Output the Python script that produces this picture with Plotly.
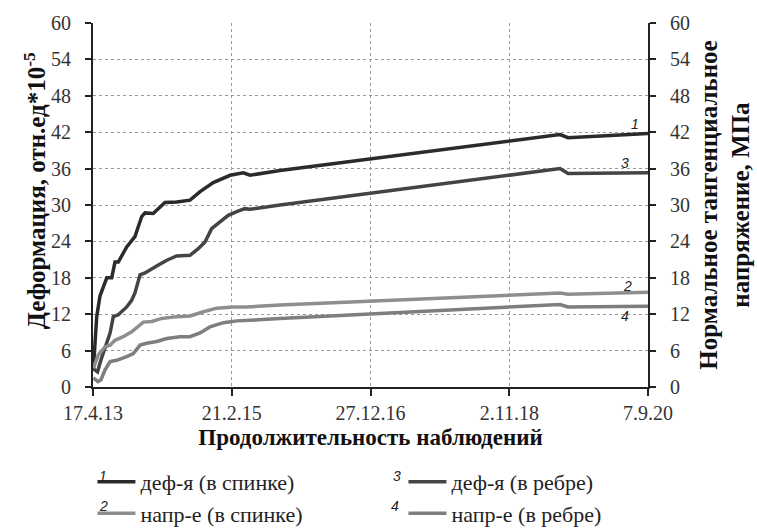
import pandas as pd
import plotly.graph_objects as go

START = pd.Timestamp("2013-04-17")

# days since 17.4.13
def_back_days = [2, 18, 34, 50, 67, 91, 107, 123, 164, 204, 237, 253, 293, 350, 407, 472, 521, 585, 667, 731, 764, 910, 2272, 2311, 2700]
def_back_vals = [3.0, 11.6, 15.0, 16.5, 18.0, 18.0, 20.6, 20.6, 23.1, 24.8, 28.1, 28.7, 28.6, 30.4, 30.5, 30.8, 32.2, 33.7, 34.9, 35.3, 34.9, 35.7, 41.6, 41.1, 41.8]

def_rib_days = [2, 22, 39, 58, 83, 99, 123, 164, 188, 204, 229, 253, 293, 318, 359, 407, 472, 512, 545, 577, 618, 658, 699, 739, 764, 910, 2272, 2311, 2700]
def_rib_vals = [3.0, 2.5, 4.5, 6.6, 8.9, 11.6, 11.9, 13.2, 14.3, 15.5, 18.5, 18.8, 19.5, 20.1, 20.9, 21.6, 21.7, 22.8, 23.9, 26.1, 27.2, 28.3, 28.9, 29.4, 29.3, 30.0, 36.0, 35.2, 35.3]

str_back_days = [2, 26, 58, 83, 107, 147, 188, 220, 245, 286, 334, 407, 472, 537, 602, 683, 748, 910, 2272, 2311, 2700]
str_back_vals = [3.1, 5.3, 6.6, 6.9, 7.7, 8.3, 9.1, 9.9, 10.7, 10.8, 11.3, 11.6, 11.7, 12.4, 13.0, 13.2, 13.2, 13.5, 15.5, 15.3, 15.6]

str_rib_days = [2, 24, 39, 58, 83, 115, 164, 196, 229, 261, 310, 359, 423, 472, 521, 569, 634, 699, 764, 910, 2272, 2311, 2700]
str_rib_vals = [1.5, 0.9, 1.2, 2.8, 4.2, 4.4, 5.0, 5.5, 6.9, 7.2, 7.5, 8.0, 8.3, 8.3, 8.9, 9.9, 10.6, 10.9, 11.0, 11.3, 13.6, 13.2, 13.3]

tick_days = [0, 675, 1350, 2025, 2700]
tick_labels = ["17.4.13", "21.2.15", "27.12.16", "2.11.18", "7.9.20"]
y_ticks = [0, 6, 12, 18, 24, 30, 36, 42, 48, 54, 60]

series_names = ["деф-я (в спинке)", "деф-я (в ребре)", "напр-е (в спинке)", "напр-е (в ребре)"]
curve_labels = ["1", "3", "2", "4"]
label_days = [2637, 2588, 2598, 2588]
label_vals = [43.4, 36.9, 16.7, 11.7]
legend_numbers = ["1", "3", "2", "4"]

left_title = "Деформация, отн.ед*10<sup>-5</sup>"
right_title = "Нормальное тангенциальное<br>напряжение, МПа"
x_title = "Продолжительность наблюдений"


def to_dates(days):
    return START + pd.to_timedelta(days, unit="D")


SERIF = "Liberation Serif"
SANS = "Liberation Sans"

fig = go.Figure()
specs = [
    (def_back_days, def_back_vals, "#2b2b2b", "y"),
    (def_rib_days, def_rib_vals, "#444444", "y"),
    (str_back_days, str_back_vals, "#8e8e8e", "y2"),
    (str_rib_days, str_rib_vals, "#7e7e7e", "y2"),
]
for (d, v, c, ax), name in zip(specs, series_names):
    fig.add_trace(go.Scatter(
        x=to_dates(d), y=v, mode="lines", name=name, yaxis=ax,
        line=dict(color=c, width=3.5),
    ))

for lbl, d, v in zip(curve_labels, label_days, label_vals):
    fig.add_annotation(
        x=to_dates([d])[0], y=v, text="<i>" + lbl + "</i>", showarrow=False,
        font=dict(family=SANS, size=14, color="#222"),
        xref="x", yref="y",
    )

# small italic numbers in front of the legend entries
leg_pos = [(0.0072, -0.272), (0.548, -0.272), (0.0072, -0.355), (0.544, -0.355)]
for num, (px, py) in zip(legend_numbers, leg_pos):
    fig.add_annotation(
        x=px, y=py, xref="paper", yref="paper", text="<i>" + num + "</i>",
        showarrow=False, font=dict(family=SANS, size=14, color="#222"),
    )

tick_font = dict(family=SERIF, size=20, color="#333")
xtitle_font = dict(family=SERIF, size=23, color="#111")
ytitle_font = dict(family=SERIF, size=25, color="#111")

# left axis title
fig.add_annotation(
    x=-0.1045, y=0.538, xref="paper", yref="paper", text="<b>" + left_title + "</b>",
    textangle=-90, showarrow=False, xanchor="center", yanchor="middle",
    font=ytitle_font,
)

fig.update_layout(
    width=757, height=528,
    margin=dict(l=93, r=109, t=23, b=141, autoexpand=False),
    paper_bgcolor="white", plot_bgcolor="white",
    showlegend=True,
    legend=dict(
        orientation="h", xref="paper", yref="paper",
        x=-0.001, xanchor="left", y=-0.203, yanchor="top",
        entrywidth=258, entrywidthmode="pixels",
        font=dict(family=SERIF, size=22, color="#222"),
        tracegroupgap=0, itemwidth=38,
        bgcolor="rgba(0,0,0,0)",
    ),
    xaxis=dict(
        type="date",
        range=[to_dates([0])[0], to_dates([2700])[0]],
        tickvals=to_dates(tick_days), ticktext=tick_labels,
        showgrid=True, gridcolor="#999", griddash="dot", gridwidth=1,
        showline=True, linecolor="#222", linewidth=2,
        ticks="outside", ticklen=7, tickcolor="#222", tickwidth=1.5,
        tickfont=tick_font,
        title=dict(text="<b>" + x_title + "</b>", font=xtitle_font, standoff=6),
        zeroline=False, automargin=False,
    ),
    yaxis=dict(
        range=[0, 60], tickvals=y_ticks,
        showgrid=True, gridcolor="#999", griddash="dot", gridwidth=1,
        showline=True, linecolor="#222", linewidth=2,
        ticks="outside", ticklen=6, tickcolor="#222", tickwidth=1.5,
        tickfont=tick_font, ticklabelstandoff=10,
        zeroline=False, automargin=False,
    ),
    yaxis2=dict(
        range=[0, 60], tickvals=y_ticks, overlaying="y", side="right",
        showgrid=False,
        showline=True, linecolor="#222", linewidth=2,
        ticks="outside", ticklen=6, tickcolor="#222", tickwidth=1.5,
        tickfont=tick_font, ticklabelstandoff=10,
        title=dict(text="<b>" + right_title + "</b>", font=ytitle_font, standoff=10),
        zeroline=False, automargin=False,
    ),
)

fig.write_html("out.html", config={"displayModeBar": False},
               post_script="document.body.style.margin='0';")
